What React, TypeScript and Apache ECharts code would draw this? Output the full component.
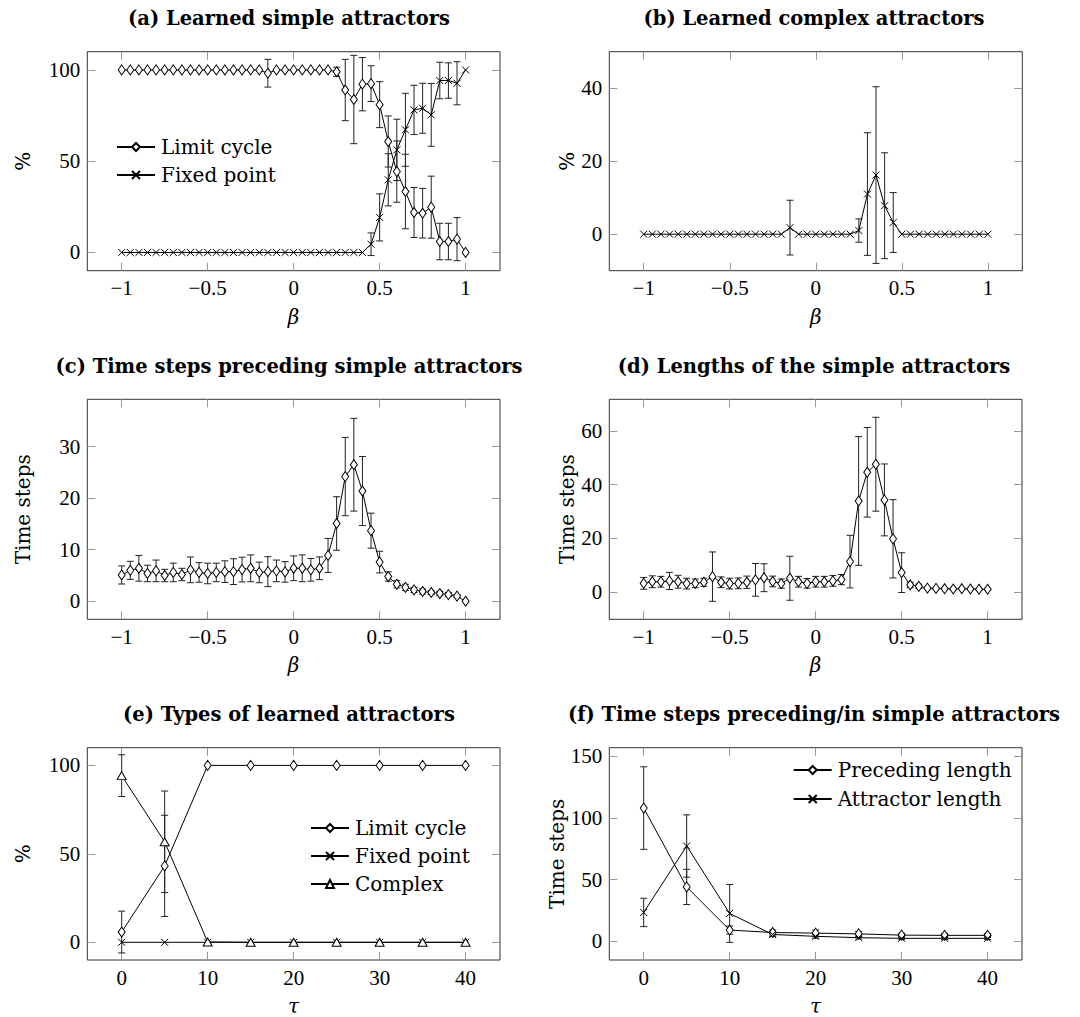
import React, { useEffect, useRef } from "react";
import * as echarts from "echarts";

// ---------- data ----------
const betaValues = [
  -1, -0.95, -0.9, -0.85, -0.8, -0.75, -0.7, -0.65, -0.6, -0.55, -0.5, -0.45, -0.4, -0.35, -0.3, -0.25, -0.2, -0.15,
  -0.1, -0.05, 0, 0.05, 0.1, 0.15, 0.2, 0.25, 0.3, 0.35, 0.4, 0.45, 0.5, 0.55, 0.6, 0.65, 0.7, 0.75, 0.8, 0.85, 0.9,
  0.95, 1,
];

// (a) Learned simple attractors
const limitCycleA = [
  100, 100, 100, 100, 100, 100, 100, 100, 100, 100, 100, 100, 100, 100, 100, 100, 100, 98.2, 100, 100, 100, 100, 100,
  100, 100, 99.0, 89.0, 83.8, 92.2, 92.5, 81.0, 60.8, 44.3, 33.4, 21.9, 21.5, 24.8, 6.0, 6.0, 7.3, 0,
];
const limitCycleAErr = [
  0, 0, 0, 0, 0, 0, 0, 0, 0, 0, 0, 0, 0, 0, 0, 0, 0, 7.6, 0, 0, 0, 0, 0, 0, 0, 2.5, 16.8, 24.2, 14.6, 9.8, 12.6, 14.0,
  16.8, 20.4, 13.7, 13.6, 17.0, 10.0, 10.0, 11.8, 0,
];
const fixedPointA = [
  0, 0, 0, 0, 0, 0, 0, 0, 0, 0, 0, 0, 0, 0, 0, 0, 0, 0, 0, 0, 0, 0, 0, 0, 0, 0, 0, 0, 0, 4.5, 19.2, 39.8, 56.2, 67.2,
  78.1, 79.0, 75.4, 94.2, 94.2, 92.7, 100,
];
const fixedPointAErr = [
  0, 0, 0, 0, 0, 0, 0, 0, 0, 0, 0, 0, 0, 0, 0, 0, 0, 0, 0, 0, 0, 0, 0, 0, 0, 0, 0, 0, 0, 6.2, 12.9, 14.3, 16.8, 20.0,
  13.5, 13.7, 17.2, 10.0, 9.7, 11.8, 0,
];

// (b) Learned complex attractors
const complexB = [
  0, 0, 0, 0, 0, 0, 0, 0, 0, 0, 0, 0, 0, 0, 0, 0, 0, 1.8, 0, 0, 0, 0, 0, 0, 0, 1.0, 11.0, 16.2, 7.8, 3.2, 0, 0, 0, 0, 0,
  0, 0, 0, 0, 0, 0,
];
const complexBErr = [
  0, 0, 0, 0, 0, 0, 0, 0, 0, 0, 0, 0, 0, 0, 0, 0, 0, 7.5, 0, 0, 0, 0, 0, 0, 0, 3.2, 16.8, 24.2, 14.5, 8.2, 0, 0, 0, 0,
  0, 0, 0, 0, 0, 0, 0,
];

// (c) Time steps preceding simple attractors
const precedingC = [
  5.1, 6.0, 6.4, 5.4, 5.9, 5.0, 5.6, 5.2, 6.1, 5.6, 5.4, 5.6, 5.75, 5.75, 6.15, 6.4, 5.6, 5.75, 5.9, 5.7, 6.4, 6.4, 6.1,
  6.4, 8.9, 15.1, 24.2, 26.5, 21.4, 13.7, 7.6, 4.8, 3.3, 2.7, 2.2, 1.9, 1.7, 1.5, 1.3, 1.0, 0,
];
const precedingCErr = [
  1.75, 1.75, 2.5, 1.6, 2.1, 1.2, 1.8, 1.2, 2.5, 1.9, 2.0, 1.8, 2.1, 2.5, 2.4, 2.6, 2.0, 2.9, 2.1, 2.0, 2.4, 2.6, 2.2,
  2.2, 3.3, 5.2, 7.6, 9.0, 6.7, 3.4, 2.1, 0.9, 0.7, 0.6, 0.5, 0.5, 0.4, 0.4, 0.4, 0.3, 0,
];

// (d) Lengths of the simple attractors
const lengthD = [
  3.2, 3.8, 3.8, 4.1, 3.8, 3.1, 3.2, 3.6, 5.7, 3.6, 3.1, 3.2, 3.6, 4.5, 5.3, 3.9, 3.1, 5.1, 3.8, 3.2, 3.8, 3.8, 4.1,
  4.6, 11.3, 33.9, 44.6, 47.6, 34.3, 19.8, 7.2, 2.6, 2.1, 1.4, 1.3, 1.2, 1.1, 1.2, 1.1, 1.0, 1.0,
];
const lengthDErr = [
  2.2, 2.2, 2.0, 3.2, 2.4, 2.0, 1.6, 1.5, 9.2, 2.0, 2.0, 2.0, 2.3, 6.1, 5.2, 2.0, 1.7, 8.2, 2.0, 1.8, 2.0, 2.0, 2.0,
  1.9, 9.8, 24.0, 16.7, 17.5, 13.4, 14.6, 7.4, 1.0, 0.8, 0.3, 0.3, 0.3, 0.3, 0.3, 0.3, 0.3, 0.3,
];

// (e) Types of learned attractors
const tauValues = [0, 5, 10, 15, 20, 25, 30, 35, 40];
const limitCycleE = [5.8, 43.2, 100, 100, 100, 100, 100, 100, 100];
const limitCycleEErr = [11.8, 28.6, 0, 0, 0, 0, 0, 0, 0];
const fixedPointE = [0, 0, 0, 0, 0, 0, 0, 0, 0];
const fixedPointEErr = [0, 0, 0, 0, 0, 0, 0, 0, 0];
const complexE = [94.2, 56.8, 0.2, 0, 0, 0, 0, 0, 0];
const complexEErr = [11.8, 28.7, 0, 0, 0, 0, 0, 0, 0];

// (f) Time steps preceding/in simple attractors
const precedingF = [108, 44, 9.0, 7.0, 6.5, 5.9, 4.9, 4.7, 4.7];
const precedingFErr = [33.5, 14.3, 3.3, 2.0, 2.5, 2.0, 1.5, 1.5, 1.5];
const attractorF = [23.3, 77.2, 22.5, 5.4, 3.9, 2.8, 2.3, 2.3, 2.3];
const attractorFErr = [11.5, 25.3, 23.5, 1.5, 1.5, 1.0, 1.0, 1.0, 1.0];

// ticks
const betaTicks = [-1, -0.5, 0, 0.5, 1];
const tauTicks = [0, 10, 20, 30, 40];
const yTicksA = [0, 50, 100];
const yTicksB = [0, 20, 40];
const yTicksC = [0, 10, 20, 30];
const yTicksD = [0, 20, 40, 60];
const yTicksE = [0, 50, 100];
const yTicksF = [0, 50, 100, 150];

const panelTitles = [
  "(a) Learned simple attractors",
  "(b) Learned complex attractors",
  "(c) Time steps preceding simple attractors",
  "(d) Lengths of the simple attractors",
  "(e) Types of learned attractors",
  "(f) Time steps preceding/in simple attractors",
];

// ---------- styling ----------
const SERIF = "'Liberation Serif', 'DejaVu Serif', serif";
const SERIF2 = "'DejaVu Serif', 'Liberation Serif', serif";
const CROSS = "path://M0,0L10,10M10,0L0,10";
const SYMBOL_SIZE: Record<string, number[]> = {
  diamond: [7, 10],
  [CROSS]: [7, 7],
  triangle: [9, 8],
};

const grids = [
  { left: 87.3, top: 51.7, width: 412.7, height: 219 },
  { left: 609.3, top: 51.7, width: 413, height: 219 },
  { left: 87.3, top: 399.3, width: 412.7, height: 220 },
  { left: 609.3, top: 399.3, width: 412.7, height: 220 },
  { left: 87.3, top: 747.7, width: 412.7, height: 219.6 },
  { left: 609.3, top: 747.7, width: 412.7, height: 220.3 },
];

const fmt = (v: number) => (v < 0 ? "\u2212" + String(-v) : String(v));

function lineSeries(name: string, xs: number[], ys: number[], symbol: string, p: number) {
  return {
    type: "line",
    name,
    xAxisIndex: p * 2,
    yAxisIndex: p * 2,
    data: xs.map((x, i) => [x, ys[i]]),
    symbol,
    symbolSize: SYMBOL_SIZE[symbol],
    showAllSymbol: true,
    lineStyle: { color: "#000", width: 1 },
    itemStyle: { color: "#fff", borderColor: "#000", borderWidth: 1 },
    emphasis: { disabled: true },
    silent: true,
    z: 3,
  };
}

function errSeries(xs: number[], ys: number[], es: number[], p: number) {
  return {
    type: "custom",
    xAxisIndex: p * 2,
    yAxisIndex: p * 2,
    data: xs.map((x, i) => [x, ys[i], es[i]]),
    encode: { x: 0, y: 1 },
    silent: true,
    z: 2,
    renderItem: (_params: any, api: any) => {
      const x = api.value(0);
      const y = api.value(1);
      const e = api.value(2);
      if (!e) return null;
      const t = api.coord([x, y + e]);
      const b = api.coord([x, y - e]);
      const w = 3.5;
      const st = { stroke: "#222", lineWidth: 1 };
      return {
        type: "group",
        children: [
          { type: "line", shape: { x1: t[0], y1: t[1], x2: b[0], y2: b[1] }, style: st },
          { type: "line", shape: { x1: t[0] - w, y1: t[1], x2: t[0] + w, y2: t[1] }, style: st },
          { type: "line", shape: { x1: b[0] - w, y1: b[1], x2: b[0] + w, y2: b[1] }, style: st },
        ],
      };
    },
  };
}

const tickStyle = { show: true, inside: true, length: 8, lineStyle: { color: "#999", width: 1 } };
const noLine = { show: false, onZero: false };

function axesFor(
  p: number,
  xr: number[],
  xt: number[],
  xName: string,
  yr: number[],
  yt: number[],
  yName: string,
  yGap: number
) {
  const xAxes = [
    {
      type: "value",
      gridIndex: p,
      position: "bottom",
      min: xr[0],
      max: xr[1],
      axisLine: noLine,
      splitLine: { show: false },
      axisTick: { ...tickStyle, customValues: xt },
      axisLabel: {
        customValues: xt,
        formatter: fmt,
        fontFamily: SERIF,
        fontSize: 21,
        color: "#000",
        margin: 7,
      },
      name: xName,
      nameLocation: "middle",
      nameGap: 36,
      nameTextStyle: { fontFamily: SERIF2, fontStyle: "italic", fontSize: 20, color: "#000" },
    },
    {
      type: "value",
      gridIndex: p,
      position: "top",
      min: xr[0],
      max: xr[1],
      axisLine: noLine,
      splitLine: { show: false },
      axisTick: { ...tickStyle, customValues: xt },
      axisLabel: { show: false, customValues: xt },
    },
  ];
  const yAxes = [
    {
      type: "value",
      gridIndex: p,
      position: "left",
      min: yr[0],
      max: yr[1],
      axisLine: noLine,
      splitLine: { show: false },
      axisTick: { ...tickStyle, customValues: yt },
      axisLabel: {
        customValues: yt,
        formatter: fmt,
        fontFamily: SERIF,
        fontSize: 21,
        color: "#000",
        margin: 7,
      },
      name: yName,
      nameLocation: "middle",
      nameGap: yGap,
      nameTextStyle: { fontFamily: SERIF2, fontSize: 20, color: "#000" },
    },
    {
      type: "value",
      gridIndex: p,
      position: "right",
      min: yr[0],
      max: yr[1],
      axisLine: noLine,
      splitLine: { show: false },
      axisTick: { ...tickStyle, customValues: yt },
      axisLabel: { show: false, customValues: yt },
    },
  ];
  return { xAxes, yAxes };
}

function buildOption() {
  const betaR = [-1.2, 1.2];
  const tauR = [-4, 44];
  const specs = [
    axesFor(0, betaR, betaTicks, "\u03b2", [-10, 110], yTicksA, "%", 54),
    axesFor(1, betaR, betaTicks, "\u03b2", [-10, 50], yTicksB, "%", 32),
    axesFor(2, betaR, betaTicks, "\u03b2", [-3.5, 39.2], yTicksC, "Time steps", 54),
    axesFor(3, betaR, betaTicks, "\u03b2", [-10.2, 71.8], yTicksD, "Time steps", 32),
    axesFor(4, tauR, tauTicks, "\u03c4", [-10, 110], yTicksE, "%", 54),
    axesFor(5, tauR, tauTicks, "\u03c4", [-15.3, 157], yTicksF, "Time steps", 33),
  ];
  const xAxis: any[] = [];
  const yAxis: any[] = [];
  specs.forEach((s) => {
    xAxis.push(...s.xAxes);
    yAxis.push(...s.yAxes);
  });

  const series: any[] = [
    errSeries(betaValues, limitCycleA, limitCycleAErr, 0),
    errSeries(betaValues, fixedPointA, fixedPointAErr, 0),
    lineSeries("Limit cycle", betaValues, limitCycleA, "diamond", 0),
    lineSeries("Fixed point", betaValues, fixedPointA, CROSS, 0),

    errSeries(betaValues, complexB, complexBErr, 1),
    lineSeries("Complex attractors", betaValues, complexB, CROSS, 1),

    errSeries(betaValues, precedingC, precedingCErr, 2),
    lineSeries("Preceding steps", betaValues, precedingC, "diamond", 2),

    errSeries(betaValues, lengthD, lengthDErr, 3),
    lineSeries("Attractor lengths", betaValues, lengthD, "diamond", 3),

    errSeries(tauValues, limitCycleE, limitCycleEErr, 4),
    errSeries(tauValues, fixedPointE, fixedPointEErr, 4),
    errSeries(tauValues, complexE, complexEErr, 4),
    lineSeries("Limit cycle", tauValues, limitCycleE, "diamond", 4),
    lineSeries("Fixed point", tauValues, fixedPointE, CROSS, 4),
    lineSeries("Complex", tauValues, complexE, "triangle", 4),

    errSeries(tauValues, precedingF, precedingFErr, 5),
    errSeries(tauValues, attractorF, attractorFErr, 5),
    lineSeries("Preceding length", tauValues, precedingF, "diamond", 5),
    lineSeries("Attractor length", tauValues, attractorF, CROSS, 5),
  ];

  const titleCenters = [
    [289, 8],
    [814, 8],
    [289, 356],
    [814, 356],
    [289, 704],
    [814, 704],
  ];
  const title = panelTitles.map((t, i) => ({
    text: t,
    left: titleCenters[i][0],
    top: titleCenters[i][1],
    textAlign: "center",
    padding: 0,
    textStyle: { fontFamily: SERIF2, fontWeight: "bold", fontSize: 19.5, color: "#000" },
  }));

  const legendBase = {
    orient: "vertical",
    padding: 0,
    itemWidth: 38,
    itemHeight: 10,
    itemGap: 8,
    selectedMode: false,
    textStyle: { fontFamily: SERIF2, fontSize: 20, color: "#000", padding: [0, 0, 0, 1] },
  };
  const legend = [
    { ...legendBase, data: ["Limit cycle", "Fixed point"], left: 116, top: 137 },
    { ...legendBase, data: ["Limit cycle", "Fixed point", "Complex"], left: 310, top: 818 },
    { ...legendBase, data: ["Preceding length", "Attractor length"], left: 792.7, top: 760, itemGap: 9 },
  ];

  return {
    animation: false,
    backgroundColor: "#fff",
    title,
    legend,
    grid: grids.map((g) => ({ ...g, show: true, borderColor: "#333", borderWidth: 1, backgroundColor: "transparent" })),
    xAxis,
    yAxis,
    series,
  };
}

export default function App() {
  const ref = useRef<HTMLDivElement>(null);
  useEffect(() => {
    if (!ref.current) return;
    const chart = echarts.init(ref.current, undefined, { renderer: "svg" });
    chart.setOption(buildOption() as any);
    return () => chart.dispose();
  }, []);
  return (
    <div
      ref={ref}
      style={{ position: "absolute", left: 0, top: 0, width: 1080, height: 1017, background: "#fff" }}
    />
  );
}
